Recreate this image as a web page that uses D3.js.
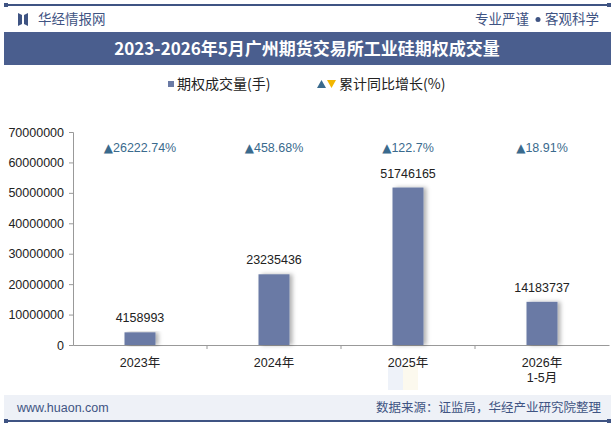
<!DOCTYPE html>
<html><head><meta charset="utf-8">
<script src="https://cdn.jsdelivr.net/npm/d3@7"></script>
<style>body{margin:0;background:#fff;}svg{display:block;font-family:"Noto Sans CJK SC","Noto Sans",sans-serif;}</style>
</head><body>
<svg id="c" width="615" height="427"></svg>
<script>
const categories = ["2023年", "2024年", "2025年", "2026年\n1-5月"];
const volumes = [4158993, 23235436, 51746165, 14183737];
const growth = ["26222.74%", "458.68%", "122.7%", "18.91%"];
const yTicks = [0, 10000000, 20000000, 30000000, 40000000, 50000000, 60000000, 70000000];

const svg = d3.select("#c");
const W = 615, H = 427;
const navy = "#3f5483";
svg.append("rect").attr("x",0).attr("y",0).attr("width",W).attr("height",H).attr("fill","#fff");
// top rule
svg.append("rect").attr("x",4).attr("y",4).attr("width",607).attr("height",2).attr("fill",navy);
svg.append("rect").attr("x",4).attr("y",3).attr("width",4).attr("height",4).attr("fill",navy);
svg.append("rect").attr("x",607).attr("y",3).attr("width",4).attr("height",4).attr("fill",navy);
// logo
svg.append("path").attr("d","M18,13 L22,15 L22,24 L18,26 Z M24,15 L28,13 L28,26 L24,24 Z").attr("fill",navy);
svg.append("text").attr("x",38).attr("y",24).attr("font-size",13.5).attr("fill",navy).text("华经情报网");
svg.append("text").attr("x",475).attr("y",24).attr("font-size",13.5).attr("fill",navy).text("专业严谨");
svg.append("circle").attr("cx",538).attr("cy",19.5).attr("r",2.5).attr("fill",navy);
svg.append("text").attr("x",545).attr("y",24).attr("font-size",13.5).attr("fill",navy).text("客观科学");
// title band
svg.append("rect").attr("x",4).attr("y",32).attr("width",607).attr("height",33).attr("fill","#4a5e8e");
svg.append("text").attr("x",307).attr("y",54.5).attr("text-anchor","middle").attr("font-size",17).attr("font-weight","bold").attr("fill","#fff").text("2023-2026年5月广州期货交易所工业硅期权成交量");

// legend
svg.append("rect").attr("x",168).attr("y",81).attr("width",6).attr("height",6).attr("fill","#6a7aa5");
svg.append("text").attr("x",177).attr("y",89).attr("font-size",14).attr("fill","#222").text("期权成交量(手)");
svg.append("path").attr("d","M317,88 L321.5,80 L326,88 Z").attr("fill","#3a6a8d");
svg.append("path").attr("d","M327,80 L336,80 L331.5,88 Z").attr("fill","#f2b600");
svg.append("text").attr("x",339).attr("y",89).attr("font-size",14).attr("fill","#222").text("累计同比增长(%)");

// faint watermark logo (bottom right)
const wg = svg.append("g").attr("opacity",0.35);
wg.append("rect").attr("x",388).attr("y",365).attr("width",15).attr("height",25).attr("fill","#cfdcef");
wg.append("rect").attr("x",403).attr("y",365).attr("width",15).attr("height",25).attr("fill","#f7efcf");

// scales
const x = d3.scaleBand().domain(categories).range([73, 609]).paddingInner(0).paddingOuter(0);
const y = d3.scaleLinear().domain([0, 70000000]).range([345, 132]);
const cx = c => x(c) + x.bandwidth()/2;

// y axis
const ya = svg.append("g").attr("transform","translate(73,0)")
  .call(d3.axisLeft(y).tickValues(yTicks).tickSize(4).tickFormat(d3.format("d")));
ya.select(".domain").attr("stroke","#999");
ya.selectAll(".tick line").attr("stroke","#999");
ya.selectAll(".tick text").attr("font-size",12.5).attr("fill","#222").attr("font-family","Arial, Liberation Sans, sans-serif").attr("dx",-2);

// x axis
const xa = svg.append("g").attr("transform","translate(0,345)")
  .call(d3.axisBottom(x).tickSize(0).tickFormat(""));
xa.select(".domain").attr("stroke","#999");
categories.forEach((c,i)=>{
  if(i>0) svg.append("line").attr("x1",x(c)).attr("x2",x(c)).attr("y1",345).attr("y2",349).attr("stroke","#999");
});
categories.forEach(c=>{
  const lines = c.split("\n");
  const t = svg.append("text").attr("text-anchor","middle").attr("font-size",12.5).attr("fill","#222")
    .attr("font-family","Arial, Liberation Sans, 'Noto Sans CJK SC', sans-serif");
  lines.forEach((l,j)=>t.append("tspan").attr("x",cx(c)).attr("y",367+j*15).text(l));
});

// bars
const bw = 31;
const defs = svg.append("defs");
const f = defs.append("filter").attr("id","sh").attr("x","-20%").attr("y","-10%").attr("width","160%").attr("height","120%");
f.append("feDropShadow").attr("dx",3).attr("dy",0).attr("stdDeviation",2).attr("flood-color","#000").attr("flood-opacity",0.3);
svg.append("g").selectAll("rect").data(volumes).join("rect")
  .attr("x",(d,i)=>cx(categories[i])-bw/2)
  .attr("y",d=>y(d)).attr("width",bw).attr("height",d=>345-y(d))
  .attr("fill","#6a7aa5").attr("filter","url(#sh)");
// value labels
svg.append("g").selectAll("text").data(volumes).join("text")
  .attr("x",(d,i)=>cx(categories[i]))
  .attr("y",d=>y(d)-10).attr("text-anchor","middle").attr("font-size",12.5).attr("fill","#222")
  .attr("font-family","Arial, Liberation Sans, sans-serif").text(d=>d);
// growth labels
const gl = svg.append("g").selectAll("text").data(growth).join("text")
  .attr("x",(d,i)=>cx(categories[i]))
  .attr("y",152).attr("text-anchor","middle").attr("font-size",12.5).attr("fill","#3a6a8d")
  .attr("font-family","Arial, Liberation Sans, sans-serif");
gl.append("tspan").attr("font-family","DejaVu Sans").attr("font-size",12).text("▲");
gl.append("tspan").text(d=>d);

// footer
svg.append("rect").attr("x",4).attr("y",395).attr("width",607).attr("height",25).attr("fill","#eef1f7");
svg.append("rect").attr("x",4).attr("y",420).attr("width",607).attr("height",2).attr("fill",navy);
svg.append("rect").attr("x",4).attr("y",419).attr("width",4).attr("height",4).attr("fill",navy);
svg.append("rect").attr("x",607).attr("y",419).attr("width",4).attr("height",4).attr("fill",navy);
svg.append("text").attr("x",17).attr("y",412).attr("font-size",12.5).attr("fill",navy).attr("font-family","Arial, Liberation Sans, sans-serif").text("www.huaon.com");
svg.append("text").attr("x",601).attr("y",412).attr("text-anchor","end").attr("font-size",12.5).attr("fill",navy).text("数据来源：证监局，华经产业研究院整理");
</script>
</body></html>
